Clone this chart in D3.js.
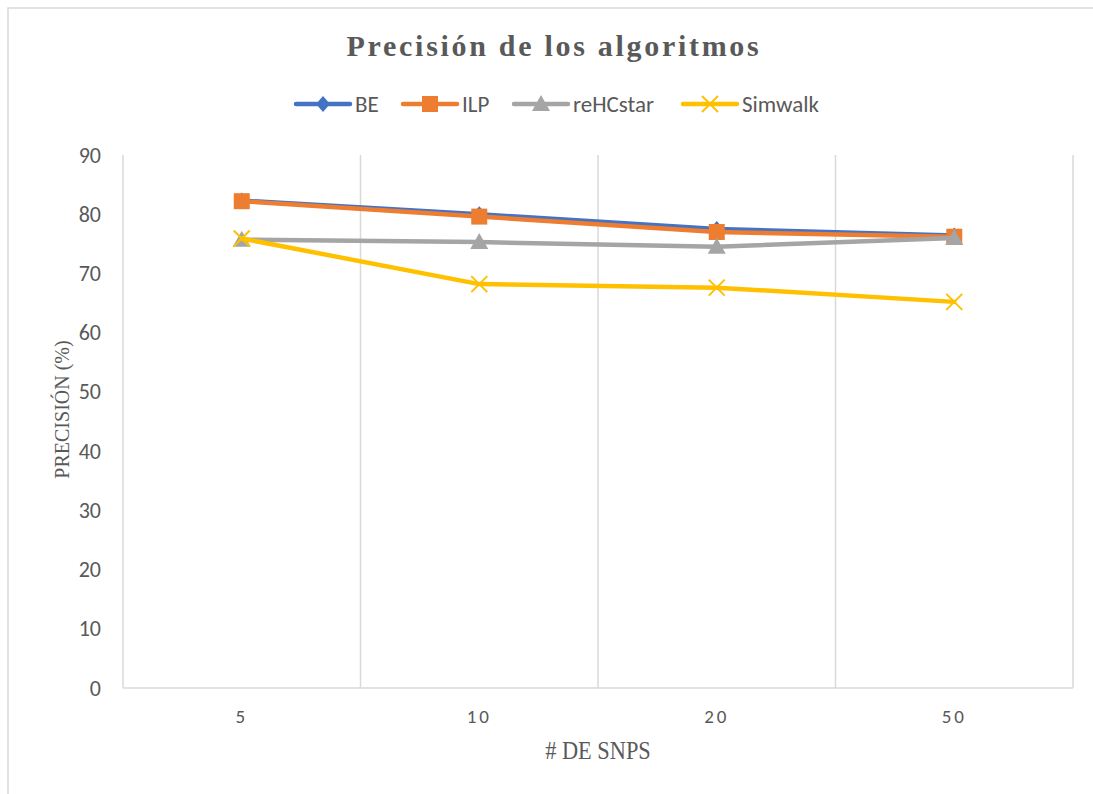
<!DOCTYPE html>
<html><head><meta charset="utf-8">
<script src="https://cdn.jsdelivr.net/npm/d3@7"></script>
<style>body{margin:0;background:#fff}svg{display:block}</style>
</head><body>
<script>
const categories = ["5", "10", "20", "50"];
const seriesNames = ["BE", "ILP", "reHCstar", "Simwalk"];
const beValues = [82.3, 80.0, 77.5, 76.4];
const ilpValues = [82.2, 79.6, 77.0, 76.2];
const rehcstarValues = [75.7, 75.3, 74.5, 76.0];
const simwalkValues = [75.9, 68.2, 67.6, 65.2];
const yTicks = [0, 10, 20, 30, 40, 50, 60, 70, 80, 90];

const colors = {BE: "#4472C4", ILP: "#ED7D31", reHCstar: "#A5A5A5", Simwalk: "#FFC000"};
const series = [
  {name: "BE", values: beValues, marker: "diamond"},
  {name: "ILP", values: ilpValues, marker: "square"},
  {name: "reHCstar", values: rehcstarValues, marker: "triangle"},
  {name: "Simwalk", values: simwalkValues, marker: "x"}
];

const W = 1093, H = 794;
const sansFont = "Carlito, Calibri, Lato, 'Liberation Sans', sans-serif";
const serifFont = "'Liberation Serif', 'Times New Roman', serif";
const svg = d3.select("body").append("svg").attr("width", W).attr("height", H);

svg.append("rect").attr("x", 8).attr("y", 8).attr("width", W + 10).attr("height", H + 10)
  .attr("fill", "none").attr("stroke", "#d9d9d9").attr("stroke-width", 1.5);

const pLeft = 123, pRight = 1073, pTop = 155, pBottom = 688;
const x = d3.scaleBand().domain(categories).range([pLeft, pRight]);
const y = d3.scaleLinear().domain([0, 90]).range([pBottom, pTop]);

const bounds = categories.map(c => x(c)).concat([pRight]);
svg.append("g").selectAll("line").data(bounds).join("line")
  .attr("x1", d => d).attr("x2", d => d).attr("y1", pTop).attr("y2", pBottom)
  .attr("stroke", "#d9d9d9").attr("stroke-width", 1.5);
svg.append("line").attr("x1", pLeft).attr("x2", pRight).attr("y1", pBottom).attr("y2", pBottom)
  .attr("stroke", "#d9d9d9").attr("stroke-width", 1.5);

const yAxis = d3.axisLeft(y).tickValues(yTicks).tickSize(0).tickPadding(22);
const yg = svg.append("g").attr("transform", `translate(${pLeft},0)`).call(yAxis);
yg.select(".domain").remove();
yg.selectAll("text").attr("font-family", sansFont)
  .attr("font-size", 22).attr("fill", "#595959");

const xAxis = d3.axisBottom(x).tickSize(0).tickPadding(22);
const xg = svg.append("g").attr("transform", `translate(0,${pBottom})`).call(xAxis);
xg.select(".domain").remove();
xg.selectAll("text").attr("font-family", sansFont)
  .attr("font-size", 19).attr("fill", "#595959").attr("letter-spacing", 3);

const cx = d => x(d) + x.bandwidth() / 2;

function drawMarker(g, type, color, px, py) {
  if (type === "diamond") {
    g.append("path").attr("d", `M${px},${py-8}L${px+7},${py}L${px},${py+8}L${px-7},${py}Z`).attr("fill", color);
  } else if (type === "square") {
    g.append("rect").attr("x", px - 8).attr("y", py - 8).attr("width", 16).attr("height", 16).attr("fill", color);
  } else if (type === "triangle") {
    g.append("path").attr("d", `M${px},${py-9}L${px+9},${py+7}L${px-9},${py+7}Z`).attr("fill", color);
  } else {
    g.append("path").attr("d", `M${px-8},${py-8}L${px+8},${py+8}M${px+8},${py-8}L${px-8},${py+8}`)
      .attr("stroke", color).attr("stroke-width", 2).attr("fill", "none");
  }
}

const line = d3.line().x((d, i) => cx(categories[i])).y(d => y(d));
series.forEach(s => {
  const g = svg.append("g");
  g.append("path").datum(s.values).attr("d", line).attr("fill", "none")
    .attr("stroke", colors[s.name]).attr("stroke-width", 4.5).attr("stroke-linejoin", "round").attr("stroke-linecap", "round");
  s.values.forEach((v, i) => drawMarker(g, s.marker, colors[s.name], cx(categories[i]), y(v)));
});

svg.append("text").attr("x", 554).attr("y", 56).attr("text-anchor", "middle")
  .attr("font-family", serifFont).attr("font-weight", "bold")
  .attr("font-size", 30).attr("letter-spacing", 2.7).attr("fill", "#595959")
  .text("Precisión de los algoritmos");

const legendX = [296, 403, 514, 683];
const legendY = 104;
series.forEach((s, i) => {
  const g = svg.append("g");
  const lx = legendX[i];
  g.append("line").attr("x1", lx).attr("x2", lx + 54).attr("y1", legendY).attr("y2", legendY)
    .attr("stroke", colors[s.name]).attr("stroke-width", 4.5).attr("stroke-linecap", "round");
  drawMarker(g, s.marker, colors[s.name], lx + 27, legendY);
  g.append("text").attr("x", lx + 59).attr("y", legendY + 8)
    .attr("font-family", sansFont)
    .attr("font-size", 23).attr("fill", "#595959").text(s.name);
});

svg.append("text").attr("transform", `translate(69,${(pTop + pBottom) / 2 - 12}) rotate(-90)`)
  .attr("text-anchor", "middle").attr("font-family", serifFont)
  .attr("font-size", 20).attr("fill", "#595959").text("PRECISIÓN (%)");
svg.append("text").attr("transform", "translate(598,759) scale(0.86,1)").attr("text-anchor", "middle")
  .attr("font-family", serifFont)
  .attr("font-size", 26).attr("fill", "#595959").text("# DE SNPS");
</script>
</body></html>
